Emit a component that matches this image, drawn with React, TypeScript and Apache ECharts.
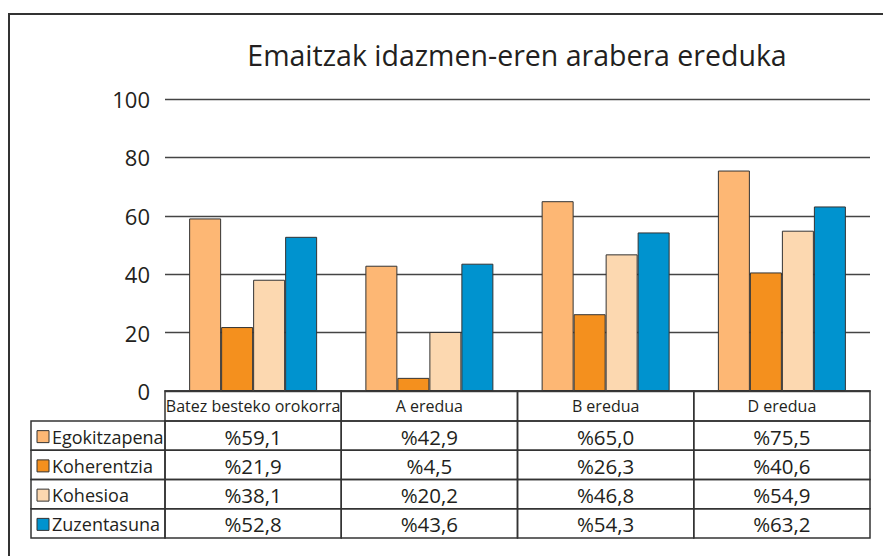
import React, { useEffect, useRef } from "react";
import * as echarts from "echarts";

const title = "Emaitzak idazmen-eren arabera ereduka";
const categories = ["Batez besteko orokorra", "A eredua", "B eredua", "D eredua"];
const seriesNames = ["Egokitzapena", "Koherentzia", "Kohesioa", "Zuzentasuna"];
const egokitzapena = [59.1, 42.9, 65.0, 75.5];
const koherentzia = [21.9, 4.5, 26.3, 40.6];
const kohesioa = [38.1, 20.2, 46.8, 54.9];
const zuzentasuna = [52.8, 43.6, 54.3, 63.2];
const seriesValues = [egokitzapena, koherentzia, kohesioa, zuzentasuna];
const colors = ["#FDB774", "#F4901E", "#FCD8B0", "#0093CF"];
const yMin = 0;
const yMax = 100;
const yStep = 20;

const FONT = "Open Sans";
const W = 883;
const H = 556;
const plotLeft = 165;
const plotRight = 870;
const plotTop = 99;
const plotBottom = 391;
const headerH = 30;
const rowH = 29.25;
const legendLeft = 31;
const lineColor = "#333";

const fmt = (v: number) => "%" + v.toFixed(1).replace(".", ",");

function buildTable(): any[] {
  const els: any[] = [];
  const colW = (plotRight - plotLeft) / categories.length;
  categories.forEach((c, i) => {
    const x = plotLeft + i * colW;
    els.push({
      type: "rect",
      shape: { x, y: plotBottom, width: colW, height: headerH },
      style: { fill: "none", stroke: lineColor, lineWidth: 1.5 },
    });
    els.push({
      type: "text",
      x: x + colW / 2,
      y: plotBottom + headerH / 2,
      style: {
        text: c,
        fontSize: 16,
        fontFamily: FONT,
        fill: "#231f20",
        align: "center",
        verticalAlign: "middle",
      },
    });
  });
  seriesNames.forEach((name, r) => {
    const y = plotBottom + headerH + r * rowH;
    els.push({
      type: "rect",
      shape: { x: legendLeft, y, width: plotLeft - legendLeft, height: rowH },
      style: { fill: "none", stroke: lineColor, lineWidth: 1.5 },
    });
    els.push({
      type: "rect",
      shape: { x: legendLeft + 6, y: y + rowH / 2 - 5, width: 12, height: 12 },
      style: { fill: colors[r], stroke: "#333", lineWidth: 1 },
    });
    els.push({
      type: "text",
      x: legendLeft + 21,
      y: y + rowH / 2 + 1,
      style: {
        text: name,
        fontSize: 18,
        fontFamily: FONT,
        fill: "#231f20",
        align: "left",
        verticalAlign: "middle",
      },
    });
    categories.forEach((_, i) => {
      const x = plotLeft + i * colW;
      els.push({
        type: "rect",
        shape: { x, y, width: colW, height: rowH },
        style: { fill: "none", stroke: lineColor, lineWidth: 1.5 },
      });
      els.push({
        type: "text",
        x: x + colW / 2,
        y: y + rowH / 2 + 1,
        style: {
          text: fmt(seriesValues[r][i]),
          fontSize: 20.5,
          fontFamily: FONT,
          fill: "#231f20",
          align: "center",
          verticalAlign: "middle",
        },
      });
    });
  });
  return els;
}

export default function App() {
  const ref = useRef<HTMLDivElement>(null);
  useEffect(() => {
    if (!ref.current) return;
    const chart = echarts.init(ref.current, undefined, { renderer: "svg" });
    chart.setOption({
      animation: false,
      backgroundColor: "#fff",
      title: {
        text: title,
        left: 512,
        top: 35,
        textAlign: "center",
        textStyle: {
          fontFamily: FONT,
          fontSize: 28.5,
          fontWeight: "normal",
          color: "#231f20",
        },
      },
      grid: {
        left: plotLeft,
        right: W - plotRight,
        top: plotTop,
        bottom: H - plotBottom,
      },
      xAxis: {
        type: "category",
        data: categories,
        axisLabel: { show: false },
        axisTick: { show: false },
        axisLine: { show: true, lineStyle: { color: lineColor, width: 1.5 } },
      },
      yAxis: {
        type: "value",
        min: yMin,
        max: yMax,
        interval: yStep,
        axisLine: { show: false },
        axisTick: { show: false },
        axisLabel: {
          fontFamily: FONT,
          fontSize: 22,
          color: "#231f20",
          margin: 15,
        },
        splitLine: { lineStyle: { color: "#444", width: 1.3 } },
      },
      series: seriesNames.map((name, i) => ({
        name,
        type: "bar",
        data: seriesValues[i],
        barWidth: 32,
        barGap: "0%",
        itemStyle: { color: colors[i], borderColor: "#333", borderWidth: 1 },
      })),
      graphic: [
        {
          type: "line",
          shape: { x1: 8, y1: 14, x2: W, y2: 14 },
          style: { stroke: lineColor, lineWidth: 2 },
        },
        {
          type: "line",
          shape: { x1: 9, y1: 14, x2: 9, y2: H },
          style: { stroke: lineColor, lineWidth: 2 },
        },
        ...buildTable(),
      ],
    });
    return () => chart.dispose();
  }, []);
  return (
    <div
      ref={ref}
      style={{ position: "fixed", left: 0, top: 0, width: W, height: H }}
    />
  );
}
